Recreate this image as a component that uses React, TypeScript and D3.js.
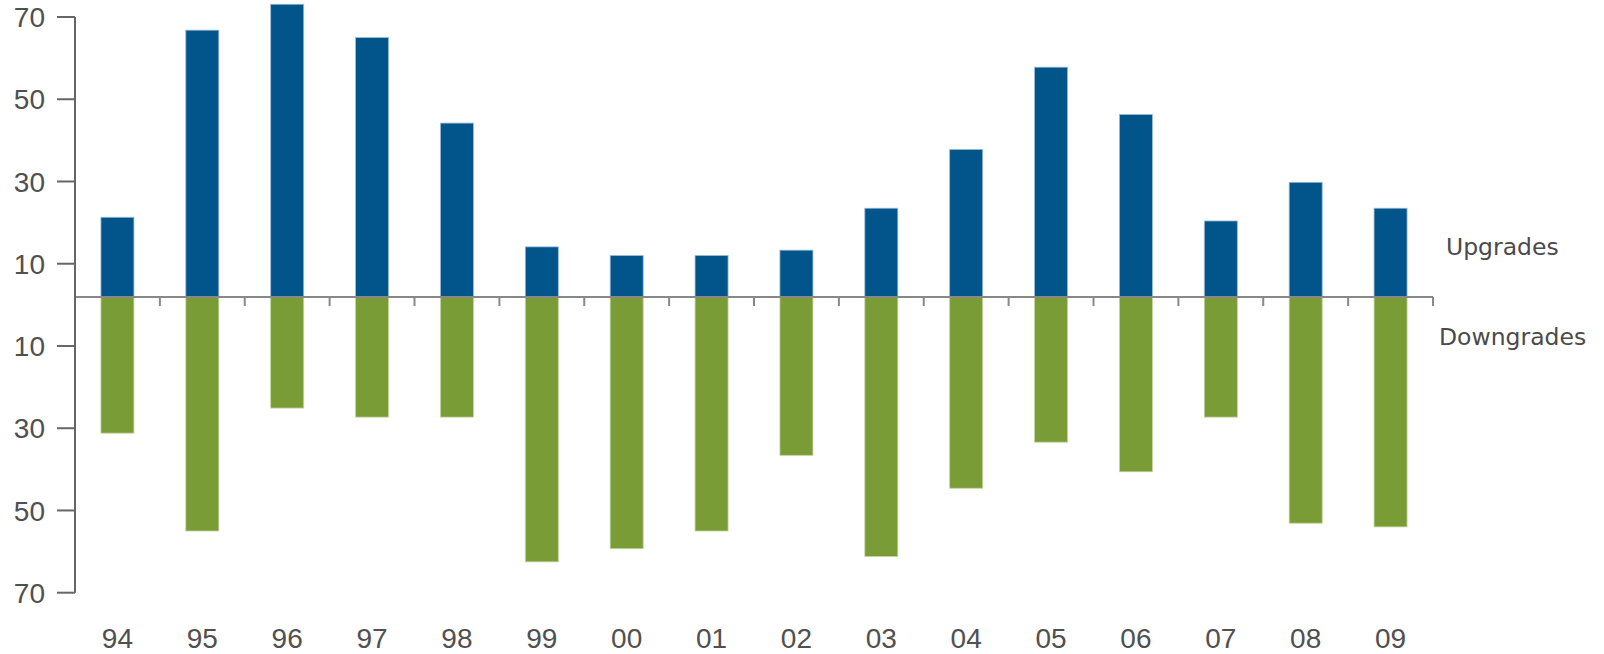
import React from "react";
import * as d3 from "d3";

const years = ["94", "95", "96", "97", "98", "99", "00", "01", "02", "03", "04", "05", "06", "07", "08", "09"];
const upgrades = [21.3, 66.8, 73.1, 65.0, 44.2, 14.1, 12.0, 12.0, 13.3, 23.5, 37.8, 57.8, 46.3, 20.4, 29.8, 23.5];
const downgrades = [31.2, 55.0, 25.1, 27.3, 27.3, 62.5, 59.3, 55.0, 36.6, 61.2, 44.6, 33.4, 40.6, 27.3, 53.1, 54.0];
const yTickValues = [70, 50, 30, 10, -10, -30, -50, -70];
const yTickLabels = ["70", "50", "30", "10", "10", "30", "50", "70"];
const seriesLabels = ["Upgrades", "Downgrades"];

const W = 1604;
const H = 654;
const BASE = 1.9; // value at which the horizontal axis line sits

export default function App() {
  const x = d3
    .scaleBand<string>()
    .domain(years)
    .range([75, 1433])
    .paddingInner(0.611)
    .paddingOuter(0.3055);
  const y = d3.scaleLinear().domain([-70, 70]).range([592.7, 17]);
  const step = x.step();
  const y0 = y(BASE);
  const labelFont = "Arial, 'Liberation Sans', Helvetica, sans-serif";
  const legendFont = "Tahoma, 'DejaVu Sans', Verdana, sans-serif";
  const textColor = "#505050";

  return (
    <svg
      width={W}
      height={H}
      style={{ position: "absolute", left: 0, top: 0, background: "#ffffff" }}
    >
      {/* upgrade bars */}
      {years.map((yr, i) => (
        <rect
          key={"u" + yr}
          x={x(yr)}
          y={y(upgrades[i])}
          width={x.bandwidth()}
          height={y0 - y(upgrades[i])}
          fill="#02558B"
          stroke="#9dbbd4"
          strokeWidth={0.8}
        />
      ))}
      {/* downgrade bars */}
      {years.map((yr, i) => (
        <rect
          key={"d" + yr}
          x={x(yr)}
          y={y0}
          width={x.bandwidth()}
          height={y(-downgrades[i]) - y0}
          fill="#7A9C36"
          stroke="#c4d5a2"
          strokeWidth={0.8}
        />
      ))}

      {/* x axis */}
      <line x1={75} x2={1433} y1={y0} y2={y0} stroke="#888888" strokeWidth={2} />
      {d3.range(1, years.length + 1).map((k) => (
        <line
          key={"xt" + k}
          x1={75 + step * k}
          x2={75 + step * k}
          y1={y0}
          y2={y0 + 9}
          stroke="#888888"
          strokeWidth={2}
        />
      ))}
      {years.map((yr) => (
        <text
          key={"xl" + yr}
          x={(x(yr) as number) + x.bandwidth() / 2}
          y={648}
          textAnchor="middle"
          fontFamily={labelFont}
          fontSize={28}
          fill={textColor}
        >
          {yr}
        </text>
      ))}

      {/* y axis */}
      <line x1={75} x2={75} y1={y(70)} y2={y(-70)} stroke="#666666" strokeWidth={2} />
      {yTickValues.map((v, i) => (
        <g key={"yt" + i}>
          <line x1={57} x2={75} y1={y(v)} y2={y(v)} stroke="#666666" strokeWidth={2} />
          <text
            x={45}
            y={y(v)}
            dy="0.36em"
            textAnchor="end"
            fontFamily={labelFont}
            fontSize={28}
            fill={textColor}
          >
            {yTickLabels[i]}
          </text>
        </g>
      ))}

      {/* series labels */}
      <text x={1446} y={255} fontFamily={legendFont} fontSize={23.5} fill="#4a4a4a">
        {seriesLabels[0]}
      </text>
      <text x={1439} y={345} fontFamily={legendFont} fontSize={23.5} fill="#4a4a4a">
        {seriesLabels[1]}
      </text>
    </svg>
  );
}
